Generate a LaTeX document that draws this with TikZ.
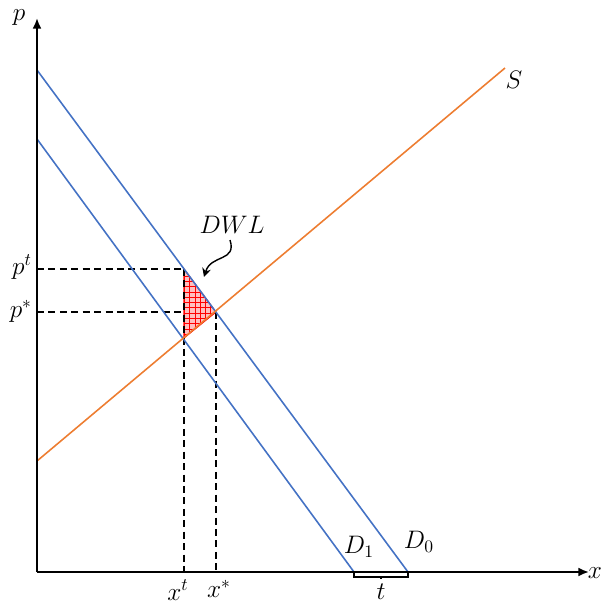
\documentclass[tikz,border=0pt]{standalone}
\usepackage{tikz}
\usetikzlibrary{arrows.meta, patterns}
\definecolor{demandblue}{HTML}{4472C4}
\definecolor{supplyorange}{HTML}{ED7D31}

\begin{document}
\begin{tikzpicture}[x=0.02cm, y=-0.02cm,
  font=\fontsize{14}{16}\selectfont,
  axisline/.style={line width=1.1pt, -{Latex[length=6pt,width=5pt]}},
  demand/.style={demandblue, line width=0.9pt},
  supply/.style={supplyorange, line width=0.9pt},
  guide/.style={black, line width=1.1pt, dash pattern=on 4pt off 2.5pt},
  lbl/.style={inner sep=1pt}
]
\useasboundingbox (0,0) rectangle (603,603);

% --- Key points (pixel grid, y down) ---
\coordinate (O)    at (37,572);
\coordinate (ytop) at (37,18);
\coordinate (xend) at (589,572);
\coordinate (d0a)  at (37,70);
\coordinate (d0b)  at (408,572);
\coordinate (d1a)  at (37,139);
\coordinate (d1b)  at (354,572);
\coordinate (sa)   at (37,461);
\coordinate (sb)   at (505,68);
\coordinate (Et)   at (184,269);   % p^t on D0
\coordinate (Es)   at (216,312);   % equilibrium
\coordinate (Eb)   at (184,338);   % D1 meets S
\coordinate (Em)   at (184,312);   % p^* on x^t

% --- DWL triangle ---
\fill[red!25] (Et) -- (Es) -- (Eb) -- cycle;
\fill[pattern=grid, pattern color=red] (Et) -- (Es) -- (Eb) -- cycle;
\draw[red, line width=0.6pt] (Et) -- (Es) -- (Eb) -- cycle;

% --- Guides ---
\draw[guide] (37,269) -- (Et);
\draw[guide] (37,312) -- (Em);
\draw[guide] (Et) -- (184,572);
\draw[guide] (Es) -- (216,572);

% --- Curves ---
\draw[demand] (d0a) -- (d0b);
\draw[demand] (d1a) -- (d1b);
\draw[supply] (sa) -- (sb);

% --- Axes ---
\draw[axisline] (O) -- (ytop);
\draw[axisline] (O) -- (xend);

% --- Tax wedge bracket ---
\draw[line width=0.6pt] (354,573) -- (354,577) -- (408,577) -- (408,573);
\draw[line width=0.6pt] (381,577) -- (381,579);

% --- DWL pointer ---
\draw[line width=0.8pt, -{Stealth[length=5pt,width=5pt]}]
  (230,240) .. controls (237,262) and (211,254) .. (204,277);

% --- Labels ---
\node[lbl] (plab)  at (19,18)   {$p$};
\node[inner sep=0pt] (xlab) at (595,573) {$x$};
\node[lbl] (slab)  at (514,80)  {$S$};
\node[lbl, anchor=east] (ptlab) at (34,267) {$p^t$};
\node[lbl, anchor=east] (pslab) at (34,311) {$p^*$};
\node[lbl, anchor=north] (xtlab) at (178,578) {$x^t$};
\node[lbl, anchor=north] (xslab) at (219,578) {$x^*$};
\node[lbl] (d1lab) at (359,547) {$D_1$};
\node[lbl] (d0lab) at (419,542) {$D_0$};
\node[inner sep=0pt] (tlab) at (381,592) {$t$};
\node[lbl] (dwl)   at (232,225) {$DWL$};

\end{tikzpicture}
\end{document}
